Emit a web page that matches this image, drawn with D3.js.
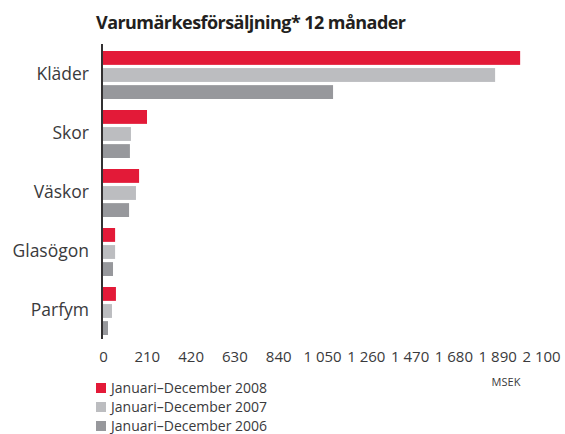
<!DOCTYPE html>
<html>
<head>
<meta charset="utf-8">
<script src="https://cdn.jsdelivr.net/npm/d3@7"></script>
<style>
  html, body { margin: 0; padding: 0; background: #fff; }
  svg { display: block; }
  text { font-family: "Open Sans", "Noto Sans", sans-serif; }
</style>
</head>
<body>
<svg id="chart" width="565" height="434"></svg>
<script>
const categories = ["Kläder", "Skor", "Väskor", "Glasögon", "Parfym"];
const seriesNames = ["Januari–December 2008", "Januari–December 2007", "Januari–December 2006"];
const values2008 = [2000, 211, 173, 58, 62];
const values2007 = [1880, 134, 158, 58, 43];
const values2006 = [1103, 129, 125, 48, 24];
const tickValues = [0, 210, 420, 630, 840, 1050, 1260, 1470, 1680, 1890, 2100];
const tickLabels = ["0", "210", "420", "630", "840", "1 050", "1 260", "1 470", "1 680", "1 890", "2 100"];
const colors = ["#E31A38", "#BCBDC0", "#97989C"];
const title = "Varumärkesförsäljning* 12 månader";
const unitLabel = "MSEK";

const seriesValues = [values2008, values2007, values2006];

const svg = d3.select("#chart");

const x = d3.scaleLinear().domain([0, 2100]).range([103, 541]);
const y = d3.scaleBand().domain(categories).range([44, 339]).paddingInner(0).paddingOuter(0);
const ySub = d3.scaleBand().domain(d3.range(3)).range([7, 55]).paddingInner(3 / 16).paddingOuter(0);

// title
svg.append("text")
  .attr("x", 96).attr("y", 29)
  .attr("font-size", 18).attr("font-weight", "bold")
  .attr("fill", "#231F20")
  .attr("textLength", 310)
  .attr("lengthAdjust", "spacing")
  .text(title);

// bars
const groups = svg.selectAll("g.cat").data(categories).join("g")
  .attr("class", "cat")
  .attr("transform", d => `translate(0,${y(d)})`);

groups.each(function(cat, ci) {
  d3.select(this).selectAll("rect").data(seriesValues.map((s, si) => ({ si, v: s[ci] })))
    .join("rect")
    .attr("x", x(0))
    .attr("y", d => ySub(d.si))
    .attr("width", d => x(d.v) - x(0))
    .attr("height", ySub.bandwidth())
    .attr("fill", d => colors[d.si]);
});

// category labels
svg.selectAll("text.cat").data(categories).join("text")
  .attr("class", "cat")
  .attr("x", 89)
  .attr("y", d => y(d) + y.bandwidth() / 2)
  .attr("dy", "0.35em")
  .attr("text-anchor", "end")
  .attr("font-size", 17.5)
  .attr("fill", "#3A3A3C")
  .text(d => d);

// vertical axis line
svg.append("line")
  .attr("x1", 102).attr("x2", 102)
  .attr("y1", 44).attr("y2", 339)
  .attr("stroke", "#333132").attr("stroke-width", 2);

// x axis tick labels
const xAxis = d3.axisBottom(x).tickValues(tickValues)
  .tickFormat((d, i) => tickLabels[i]).tickSize(0).tickPadding(0);
const gx = svg.append("g").attr("transform", "translate(0,351)").call(xAxis);
gx.select(".domain").remove();
gx.selectAll("text")
  .attr("font-size", 15)
  .attr("font-family", "'Open Sans', 'Noto Sans', sans-serif")
  .attr("fill", "#3A3A3C");

// unit label
svg.append("text")
  .attr("x", 506).attr("y", 386)
  .attr("text-anchor", "middle")
  .attr("font-size", 11)
  .attr("fill", "#3A3A3C")
  .text(unitLabel);

// legend
const legend = svg.selectAll("g.leg").data(seriesNames).join("g")
  .attr("class", "leg")
  .attr("transform", (d, i) => `translate(96,${383 + i * 19})`);
legend.append("rect")
  .attr("width", 10).attr("height", 10)
  .attr("fill", (d, i) => colors[i]);
legend.append("text")
  .attr("x", 15).attr("y", 5)
  .attr("dy", "0.35em")
  .attr("font-size", 14)
  .attr("fill", "#3A3A3C")
  .text(d => d);
</script>
</body>
</html>
